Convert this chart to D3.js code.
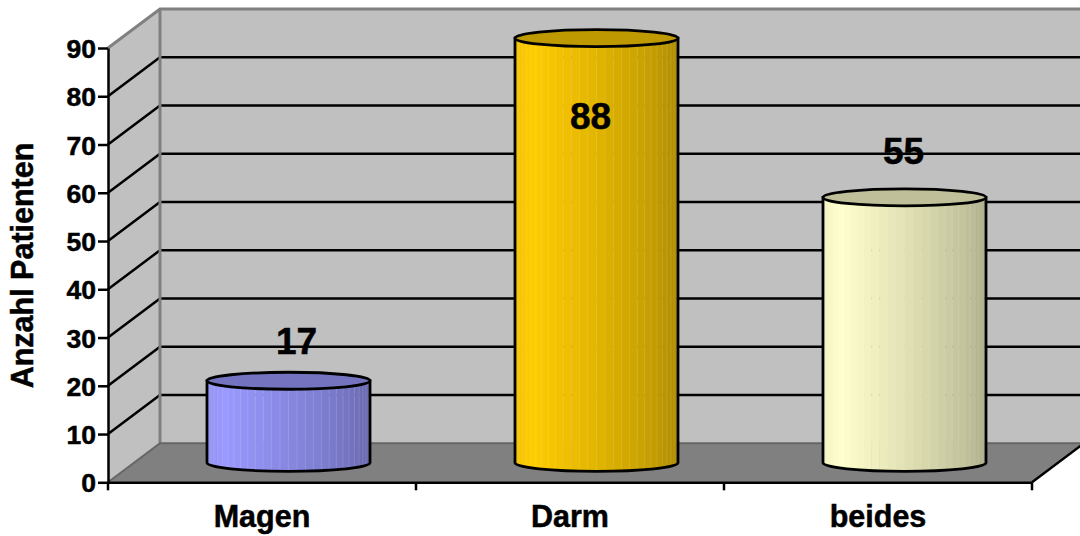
<!DOCTYPE html>
<html lang="de">
<head>
    <meta charset="UTF-8">
    <title>Anzahl Patienten</title>
    <style>
        html, body { margin: 0; padding: 0; background: #fff; }
        svg { display: block; }
        text { font-family: "Liberation Sans", Arial, sans-serif; font-weight: bold; fill: #000; stroke: #000; stroke-width: 0.5px; }
        .domain, .tick line { stroke: #000; stroke-width: 2.5px; }
    </style>
    <script src="https://d3js.org/d3.v7.min.js"></script>
</head>
<body>
    <script>
        // values
        const categories = ["Magen", "Darm", "beides"];
        const patients = [17, 88, 55];
        const yTicks = [0, 10, 20, 30, 40, 50, 60, 70, 80, 90];
        const yTitle = "Anzahl Patienten";
        const sideColors = ["#9999ff", "#ffcc00", "#ffffcc"];

        const width = 1080, height = 536;
        const svg = d3.select("body").append("svg").attr("width", width).attr("height", height);

        // 3d box: the back wall is the front plane moved by this much
        const depthX = 52, depthY = -39;

        const x = d3.scaleBand().domain(categories).range([108, 1032]);
        const y = d3.scaleLinear().domain([0, 90]).range([482.3, 48]);
        const x0 = x.range()[0], x1 = x.range()[1], y0 = y(0), y90 = y(90);

        // walls and floor
        const poly = pts => "M" + pts.map(p => p.join(",")).join("L") + "Z";
        svg.append("path")
            .attr("d", poly([[x0, y0], [x0 + depthX, y0 + depthY], [x0 + depthX, y90 + depthY], [x0, y90]]))
            .attr("fill", "#c0c0c0");
        svg.append("path")
            .attr("d", poly([[x0 + depthX, y0 + depthY], [x1 + depthX, y0 + depthY], [x1 + depthX, y90 + depthY], [x0 + depthX, y90 + depthY]]))
            .attr("fill", "#c0c0c0");

        // grid lines over both walls
        svg.append("g").selectAll("path")
            .data(yTicks.slice(1, -1))
            .enter().append("path")
            .attr("d", d => `M${x0},${y(d)}L${x0 + depthX},${y(d) + depthY}L${x1 + depthX},${y(d) + depthY}`)
            .attr("fill", "none")
            .attr("stroke", "#000")
            .attr("stroke-width", 2.5);

        // wall outline
        svg.append("path")
            .attr("d", `M${x0},${y90}L${x0 + depthX},${y90 + depthY}L${x1 + depthX},${y90 + depthY}M${x0 + depthX},${y90 + depthY}L${x0 + depthX},${y0 + depthY}`)
            .attr("fill", "none")
            .attr("stroke", "#808080")
            .attr("stroke-width", 3);

        svg.append("path")
            .attr("d", poly([[x0, y0], [x0 + depthX, y0 + depthY], [x1 + depthX, y0 + depthY], [x1, y0]]))
            .attr("fill", "#808080");
        svg.append("path")
            .attr("d", `M${x0},${y0}L${x0 + depthX},${y0 + depthY}L${x1 + depthX},${y0 + depthY}`)
            .attr("fill", "none")
            .attr("stroke", "#666")
            .attr("stroke-width", 2);
        svg.append("path")
            .attr("d", `M${x1},${y0}L${x1 + depthX},${y0 + depthY}`)
            .attr("stroke", "#000")
            .attr("stroke-width", 2.5);

        // axes
        const yAxis = d3.axisLeft(y).tickValues(yTicks).tickSize(10).tickPadding(2).tickSizeOuter(0);
        const gy = svg.append("g").attr("transform", `translate(${x0},0)`).call(yAxis);
        gy.selectAll("text").style("font-size", "26.5px").attr("dy", "0.36em");

        const xAxis = d3.axisBottom(x).tickSize(0).tickSizeOuter(0).tickPadding(0);
        const gx = svg.append("g").attr("transform", `translate(0,${y0})`).call(xAxis);
        gx.selectAll("text").style("font-size", "30.5px").attr("y", 45).attr("dy", 0);
        gx.selectAll(".tick").attr("transform", d => `translate(${x(d) + x.bandwidth() / 2},0)`);
        gx.selectAll(".tagmark")
            .data(x.domain().map(d => x(d)).concat(x1))
            .enter().append("line").attr("class", "tagmark")
            .attr("x1", d => d).attr("x2", d => d)
            .attr("y1", 0).attr("y2", 8)
            .attr("stroke", "#000").attr("stroke-width", 2.5);

        svg.append("text")
            .attr("transform", `translate(32.5,${(142 + 389) / 2}) rotate(-90)`)
            .attr("text-anchor", "middle")
            .style("font-size", "30.5px")
            .text(yTitle);

        // cylinders, shaded in narrow vertical strips like the original
        const radius = 81.5, ry = 8.5;
        const cx = c => x(c) + x.bandwidth() / 2 + depthX / 2 + 0.5;
        const baseY = v => y(v) + depthY / 2;
        const nStrips = 30;
        const stripEdge = d3.range(nStrips + 1).map(i => -Math.cos(Math.PI * i / nStrips));

        function shade(col, t) {
            // t goes 0..1 across the cylinder, brightest a little left of the middle
            const f = t < 0.22 ? 0.93 + 0.07 * t / 0.22 : 1 - 0.36 * Math.pow((t - 0.22) / 0.78, 1.1);
            const c = d3.rgb(col);
            return d3.rgb(c.r * f, c.g * f, c.b * f);
        }

        const bars = svg.append("g").selectAll("g")
            .data(categories)
            .enter().append("g");

        bars.each(function (c, i) {
            const g = d3.select(this);
            const cxv = cx(c), top = baseY(patients[i]), bot = baseY(0);
            const clipId = "side" + i;
            const side = `M${cxv - radius},${top}L${cxv - radius},${bot}A${radius},${ry} 0 0 0 ${cxv + radius},${bot}L${cxv + radius},${top}Z`;
            g.append("clipPath").attr("id", clipId).append("path").attr("d", side);
            const inside = g.append("g").attr("clip-path", `url(#${clipId})`);
            inside.selectAll("rect")
                .data(d3.range(nStrips))
                .enter().append("rect")
                .attr("x", k => cxv + stripEdge[k] * radius)
                .attr("width", k => (stripEdge[k + 1] - stripEdge[k]) * radius + 0.4)
                .attr("y", top - 1)
                .attr("height", bot - top + ry + 2)
                .attr("fill", k => shade(sideColors[i], (k + 0.5) / nStrips));
            // faint seams between the strips
            inside.selectAll("line")
                .data(d3.range(1, nStrips))
                .enter().append("line")
                .attr("x1", k => cxv + stripEdge[k] * radius)
                .attr("x2", k => cxv + stripEdge[k] * radius)
                .attr("y1", top)
                .attr("y2", bot + ry)
                .attr("stroke", "#fff")
                .attr("stroke-opacity", 0.13)
                .attr("stroke-width", 1);
            g.append("path").attr("d", side).attr("fill", "none").attr("stroke", "#000").attr("stroke-width", 2.8);
            const t = d3.rgb(sideColors[i]);
            g.append("ellipse")
                .attr("cx", cxv).attr("cy", top).attr("rx", radius).attr("ry", ry)
                .attr("fill", d3.rgb(t.r * 0.75, t.g * 0.75, t.b * 0.75))
                .attr("stroke", "#000").attr("stroke-width", 2.8);
        });

        // data labels; the tall bar carries its label inside
        const labelDy = v => v > 80 ? 91 : v > 50 ? -33 : -27;
        const labelDx = v => v > 80 ? -6 : v > 50 ? -1 : 8;
        svg.append("g").selectAll("text")
            .data(patients)
            .enter().append("text")
            .attr("x", (d, i) => cx(categories[i]) + labelDx(d))
            .attr("y", d => baseY(d) + labelDy(d))
            .attr("text-anchor", "middle")
            .style("font-size", "37px")
            .text(d => d);
    </script>
</body>
</html>
